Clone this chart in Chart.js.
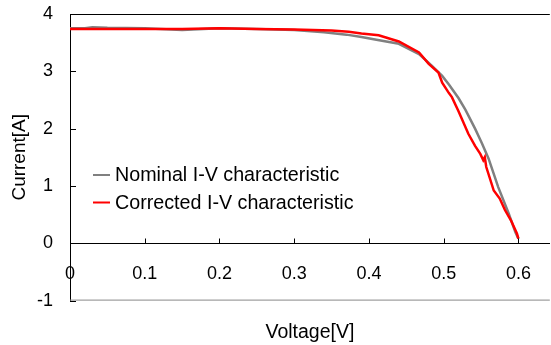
<!DOCTYPE html>
<html><head><meta charset="utf-8">
<script src="https://cdn.jsdelivr.net/npm/chart.js@4/dist/chart.umd.min.js"></script>
<style>html,body{margin:0;padding:0;background:#fff}</style>
</head><body>
<canvas id="c" width="551" height="345"></canvas>
<script>
const nominalV = [0, 0.02, 0.03, 0.05, 0.1, 0.15, 0.2, 0.25, 0.3, 0.34, 0.37, 0.39, 0.41, 0.44, 0.467, 0.484, 0.498, 0.507, 0.52, 0.529, 0.542, 0.551, 0.56, 0.573, 0.587, 0.596, 0.6];
const nominalI = [3.75, 3.75, 3.77, 3.76, 3.75, 3.72, 3.75, 3.74, 3.72, 3.68, 3.64, 3.60, 3.55, 3.48, 3.30, 3.10, 2.92, 2.77, 2.53, 2.33, 2.00, 1.75, 1.48, 0.98, 0.52, 0.19, 0.08];
const correctedV = [0, 0.05, 0.1, 0.15, 0.2, 0.25, 0.3, 0.35, 0.373, 0.39, 0.413, 0.44, 0.467, 0.48, 0.493, 0.498, 0.507, 0.511, 0.52, 0.533, 0.542, 0.549, 0.553, 0.555, 0.557, 0.567, 0.575, 0.582, 0.59, 0.598, 0.6];
const correctedI = [3.74, 3.74, 3.74, 3.74, 3.75, 3.74, 3.73, 3.71, 3.69, 3.66, 3.63, 3.52, 3.33, 3.13, 2.98, 2.80, 2.62, 2.55, 2.30, 1.91, 1.70, 1.56, 1.45, 1.50, 1.33, 0.92, 0.78, 0.58, 0.40, 0.17, 0.08];
const seriesLabels = ['Nominal I-V characteristic', 'Corrected I-V characteristic'];
const xTitle = 'Voltage[V]';
const yTitle = 'Current[A]';

const FONT = '"Liberation Sans", Arial, sans-serif';
const toPts = (xs, ys) => xs.map((x, i) => ({x: x, y: ys[i]}));

const decor = {
  id: 'decor',
  afterDraw(chart) {
    const {ctx, chartArea: a, scales: {x, y}} = chart;
    ctx.save();
    ctx.strokeStyle = '#000'; ctx.lineWidth = 1;
    ctx.beginPath(); ctx.moveTo(a.left, a.top + 0.5); ctx.lineTo(a.right, a.top + 0.5); ctx.stroke();
    ctx.strokeStyle = '#888';
    ctx.beginPath(); ctx.moveTo(a.left, a.bottom - 0.5); ctx.lineTo(a.right, a.bottom - 0.5); ctx.stroke();
    ctx.strokeStyle = '#000';
    const y0 = Math.round(y.getPixelForValue(0)) + 0.5;
    x.ticks.forEach(t => {
      const px = Math.round(x.getPixelForValue(t.value)) + 0.5;
      ctx.beginPath(); ctx.moveTo(px, y0); ctx.lineTo(px, y0 - 5); ctx.stroke();
    });
    y.ticks.forEach(t => {
      const py = Math.round(y.getPixelForValue(t.value)) + 0.5;
      ctx.beginPath(); ctx.moveTo(a.left, py); ctx.lineTo(a.left + 6, py); ctx.stroke();
    });
    ctx.font = '19.7px ' + FONT;
    ctx.textBaseline = 'middle';
    ctx.fillStyle = '#000';
    chart.data.datasets.forEach((ds, i) => {
      const ly = 175 + i * 27.5;
      ctx.strokeStyle = ds.borderColor; ctx.lineWidth = 2;
      ctx.beginPath(); ctx.moveTo(93, ly); ctx.lineTo(110, ly); ctx.stroke();
      ctx.fillText(ds.label, 115, ly + 1);
    });
    ctx.restore();
  }
};

new Chart(document.getElementById('c'), {
  type: 'line',
  data: {
    datasets: [
      {label: seriesLabels[0], data: toPts(nominalV, nominalI), borderColor: '#808080', borderWidth: 2.5, pointRadius: 0, tension: 0, order: 1},
      {label: seriesLabels[1], data: toPts(correctedV, correctedI), borderColor: '#ff0000', borderWidth: 2.5, pointRadius: 0, tension: 0, order: 0}
    ]
  },
  options: {
    responsive: false,
    animation: false,
    layout: {padding: {top: 14, right: 0, left: 0, bottom: 0}},
    plugins: {
      legend: {display: false},
      tooltip: {enabled: false},
      title: {display: true, fullSize: false, text: xTitle, position: 'bottom', color: '#000', font: {family: FONT, size: 19.5, weight: 'normal'}, padding: {top: 20, bottom: 1}}
    },
    scales: {
      x: {
        type: 'linear', min: 0, max: 0.642,
        position: {y: 0},
        grid: {display: false, drawTicks: false},
        border: {display: true, color: '#000', width: 1},
        ticks: {stepSize: 0.1, includeBounds: false, color: '#000', padding: 20, maxRotation: 0, font: {family: FONT, size: 18}},
        afterFit(s) { s.height = 0; }
      },
      y: {
        min: -1, max: 4,
        grid: {display: false, drawTicks: false},
        border: {display: true, color: '#000', width: 1},
        ticks: {stepSize: 1, color: '#000', padding: 17, font: {family: FONT, size: 18}},
        title: {display: true, text: yTitle, color: '#000', font: {family: FONT, size: 19}, padding: {top: 8, bottom: 0}},
        afterFit(s) { s.width = 70; s.paddingTop = 10; s.paddingBottom = 10; }
      }
    }
  },
  plugins: [decor]
});
</script>
</body></html>
